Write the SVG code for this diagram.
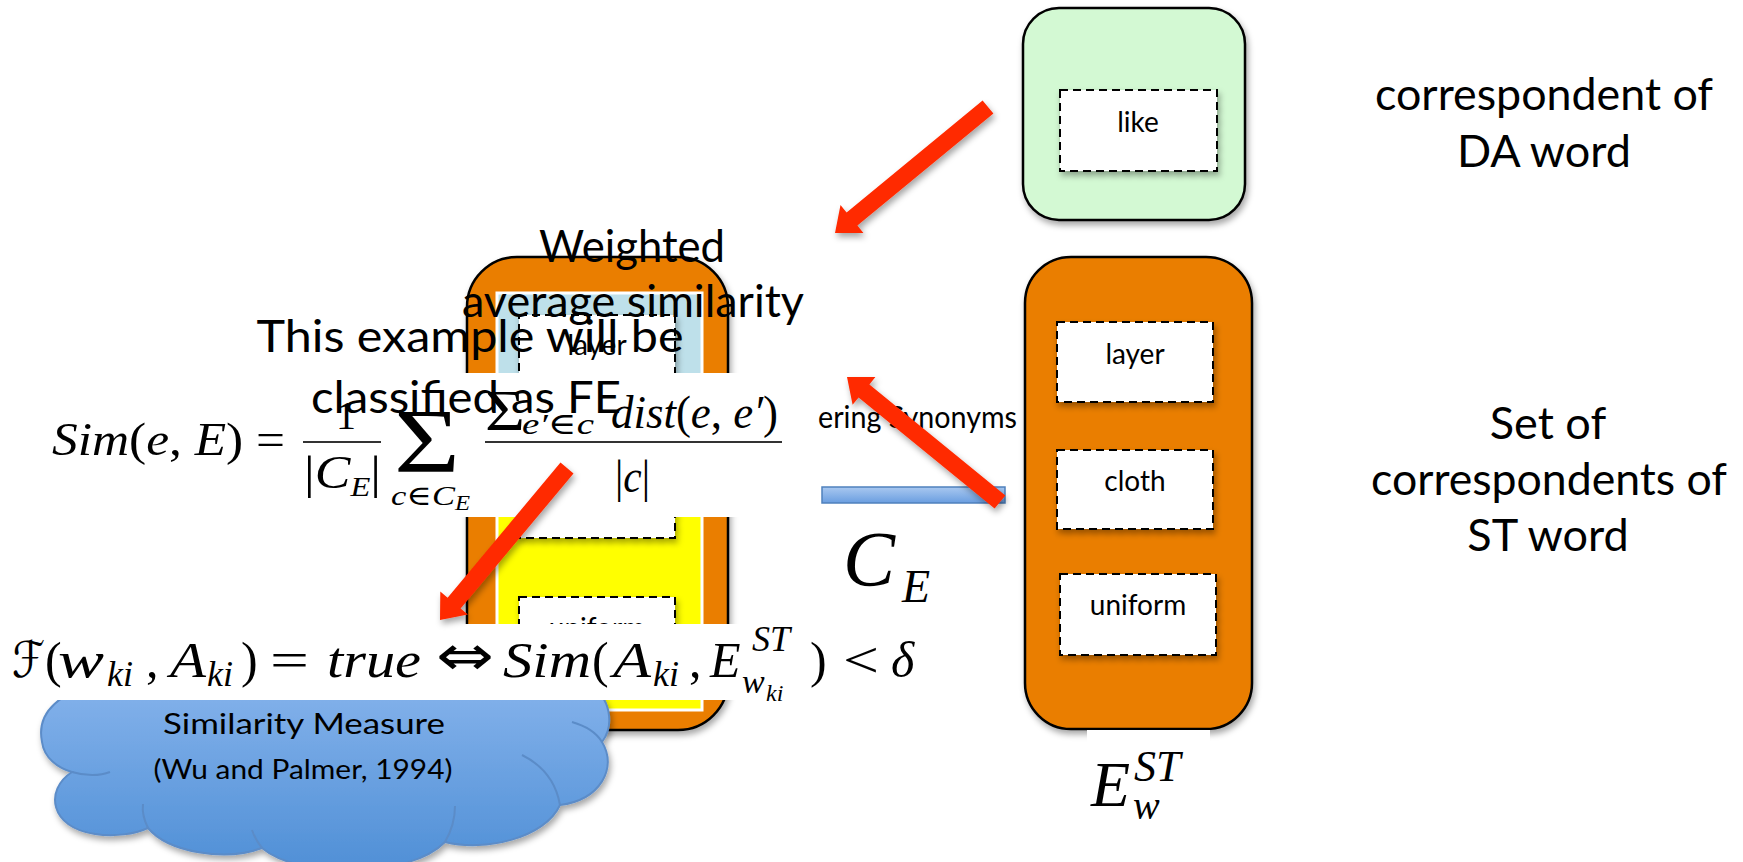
<svg xmlns="http://www.w3.org/2000/svg" width="1743" height="862" viewBox="0 0 1743 862">
<style>
.box{stroke:#000;stroke-width:2.5}
.dash{fill:#fff;stroke:#000;stroke-width:2;stroke-dasharray:8 5}
.lbl{font-family:Lato,"Open Sans",sans-serif;font-size:28px;text-anchor:middle;fill:#000}
.big{font-family:Lato,"Open Sans",sans-serif;font-size:45px;fill:#000}
.mid{text-anchor:middle}
.m{font-family:"Liberation Serif","DejaVu Serif",serif;font-style:italic;fill:#000}
.u{font-style:normal}
.arrow{fill:#ff2a00}
.bar{stroke:#333;stroke-width:2}
</style>
<defs>
<filter id="sh" x="-20%" y="-20%" width="140%" height="140%">
<feDropShadow dx="2" dy="4" stdDeviation="3" flood-color="#000" flood-opacity="0.35"/>
</filter>
<linearGradient id="cloudG" x1="0" y1="0" x2="0" y2="1">
<stop offset="0" stop-color="#93bcf1"/>
<stop offset="1" stop-color="#4f8fd6"/>
</linearGradient>
<linearGradient id="barG" x1="0" y1="0" x2="0" y2="1">
<stop offset="0" stop-color="#a9c8f0"/>
<stop offset="1" stop-color="#6a9ee0"/>
</linearGradient>
</defs>
<rect width="1743" height="862" fill="#fff"/>

<g id="da-box">
<rect class="box" x="1023" y="8" width="222" height="212" rx="36" fill="#d3f9d3" filter="url(#sh)"/>
<rect class="dash" x="1060" y="90" width="157" height="81" filter="url(#sh)"/>
<text class="lbl" x="1138" y="132">like</text>
</g>

<g id="st-box">
<rect class="box" x="1025" y="257" width="227" height="472" rx="46" fill="#ea7e04" filter="url(#sh)"/>
<rect class="dash" x="1057" y="322" width="156" height="80" filter="url(#sh)"/>
<text class="lbl" x="1135" y="364">layer</text>
<rect class="dash" x="1057" y="450" width="156" height="79" filter="url(#sh)"/>
<text class="lbl" x="1135" y="491">cloth</text>
<rect class="dash" x="1060" y="574" width="156" height="81" filter="url(#sh)"/>
<text class="lbl" x="1138" y="615">uniform</text>
</g>

<g id="cluster-box">
<rect class="box" x="467" y="257" width="261" height="473" rx="50" fill="#ea7e04" filter="url(#sh)"/>
<rect x="497" y="293" width="205" height="140" fill="#bee0ea" stroke="#fff" stroke-width="3"/>
<rect x="497" y="433" width="205" height="277" fill="#ffff00" stroke="#fff" stroke-width="3"/>
<rect class="dash" x="519" y="315" width="156" height="80" filter="url(#sh)"/>
<text class="lbl" x="597" y="355">layer</text>
<rect class="dash" x="519" y="458" width="156" height="80" filter="url(#sh)"/>
<rect class="dash" x="519" y="597" width="156" height="80" filter="url(#sh)"/>
<text class="lbl" x="597" y="638">uniform</text>
</g>

<g id="blue-bar">
<rect x="822" y="487" width="183" height="16" fill="url(#barG)" stroke="#4f81bd" stroke-width="1.5"/>
</g>

<g id="synonyms-label">
<text class="big" x="818" y="428" style="font-size:31px" textLength="199" lengthAdjust="spacingAndGlyphs">ering Synonyms</text>
</g>

<g id="formula-sim">
<rect x="30" y="373" width="788" height="144" fill="#fff"/>
<text class="m" x="52" y="455" font-size="46" textLength="233" lengthAdjust="spacingAndGlyphs">Sim<tspan class="u">(</tspan>e<tspan class="u">, </tspan>E<tspan class="u">) =</tspan></text>
<text class="m u" x="336" y="429" font-size="40">1</text>
<line class="bar" x1="303" y1="442" x2="381" y2="442"/>
<text class="m" x="304" y="488" font-size="46" textLength="77" lengthAdjust="spacingAndGlyphs"><tspan class="u">|</tspan>C<tspan font-size="28" dy="8">E</tspan><tspan class="u" dy="-8">|</tspan></text>
<text class="m u" x="394" y="472" font-size="90" textLength="66" lengthAdjust="spacingAndGlyphs">Σ</text>
<text class="m" x="391" y="505" font-size="28" textLength="79" lengthAdjust="spacingAndGlyphs">c<tspan class="u">∈</tspan>C<tspan font-size="20" dy="5">E</tspan></text>
<line class="bar" x1="485" y1="442" x2="782" y2="442"/>
<text class="m u" x="485" y="430" font-size="58" textLength="40" lengthAdjust="spacingAndGlyphs">Σ</text>
<text class="m" x="522" y="434" font-size="30" textLength="72" lengthAdjust="spacingAndGlyphs">e′<tspan class="u">∈</tspan>c</text>
<text class="m" x="611" y="428" font-size="46" textLength="167" lengthAdjust="spacingAndGlyphs">dist<tspan class="u">(</tspan>e<tspan class="u">, </tspan>e′<tspan class="u">)</tspan></text>
<text class="m" x="615" y="492" font-size="46" textLength="35" lengthAdjust="spacingAndGlyphs"><tspan class="u">|</tspan>c<tspan class="u">|</tspan></text>
</g>

<g id="ce-label">
<rect x="838" y="523" width="107" height="89" fill="#fff"/>
<text class="m" x="843" y="585" font-size="78">C</text>
<text class="m" x="902" y="602" font-size="46">E</text>
</g>

<g id="est-label">
<rect x="1087" y="730" width="123" height="101" fill="#fff"/>
<text class="m" x="1091" y="806" font-size="64">E</text>
<text class="m" x="1134" y="781" font-size="44">ST</text>
<text class="m" x="1133" y="819" font-size="40">w</text>
</g>

<g id="similarity-cloud">
<path d="M 100,690 C 62,688 36,712 42,742 C 44,758 58,768 72,772 C 44,790 50,828 95,834 C 115,837 135,834 148,828 C 168,852 225,862 262,848 C 300,880 410,878 445,842 C 485,852 545,838 560,805 C 600,800 618,768 602,742 C 615,725 610,695 590,688 C 600,665 580,645 550,645 C 520,630 460,630 440,640 C 400,628 330,630 312,640 C 272,628 205,630 192,645 C 140,635 92,652 100,690 Z" fill="url(#cloudG)" stroke="#5b8cc8" stroke-width="2" filter="url(#sh)"/>
<g fill="none" stroke="#5b8cc8" stroke-width="2">
<path d="M 72,772 C 85,776 100,776 110,772"/>
<path d="M 148,828 C 144,820 142,812 143,804"/>
<path d="M 262,848 C 257,842 254,836 252,830"/>
<path d="M 445,842 C 452,830 455,818 455,806"/>
<path d="M 560,805 C 556,782 542,765 522,755"/>
<path d="M 602,742 C 596,732 586,726 572,722"/>
</g>
<text class="lbl" x="304" y="734" style="font-size:29px" textLength="282" lengthAdjust="spacingAndGlyphs">Similarity Measure</text>
<text class="lbl" x="303" y="779" style="font-size:26px" textLength="299" lengthAdjust="spacingAndGlyphs">(Wu and Palmer, 1994)</text>
</g>

<g id="formula-filter">
<rect x="0" y="624" width="940" height="76" fill="#fff"/>
<text class="m" x="12" y="677" style="font-family:'DejaVu Serif','DejaVu Sans',serif;font-size:50px" textLength="33" lengthAdjust="spacingAndGlyphs">ℱ</text>
<text class="m u" x="45" y="677" font-size="50">(</text>
<text class="m" x="58" y="677" font-size="50" textLength="46" lengthAdjust="spacingAndGlyphs">w</text>
<text class="m" x="107" y="686" font-size="36">ki</text>
<text class="m u" x="146" y="677" font-size="50">,</text>
<text class="m" x="170" y="677" font-size="50" textLength="36" lengthAdjust="spacingAndGlyphs">A</text>
<text class="m" x="207" y="686" font-size="36">ki</text>
<text class="m u" x="241" y="677" font-size="50">)</text>
<text class="m u" x="270" y="677" font-size="50" textLength="39" lengthAdjust="spacingAndGlyphs">=</text>
<text class="m" x="327" y="677" font-size="50" textLength="94" lengthAdjust="spacingAndGlyphs">true</text>
<text class="m u" x="436" y="675" style="font-family:'DejaVu Sans',sans-serif;font-size:56px" textLength="58" lengthAdjust="spacingAndGlyphs">⇔</text>
<text class="m" x="503" y="677" font-size="50" textLength="88" lengthAdjust="spacingAndGlyphs">Sim</text>
<text class="m u" x="592" y="677" font-size="50">(</text>
<text class="m" x="613" y="677" font-size="50" textLength="38" lengthAdjust="spacingAndGlyphs">A</text>
<text class="m" x="653" y="686" font-size="36">ki</text>
<text class="m u" x="689" y="677" font-size="50">,</text>
<text class="m" x="710" y="677" font-size="50">E</text>
<text class="m" x="752" y="651" font-size="36">ST</text>
<text class="m" x="742" y="693" font-size="34">w</text>
<text class="m" x="766" y="701" font-size="24">ki</text>
<text class="m u" x="810" y="677" font-size="50">)</text>
<text class="m u" x="843" y="677" font-size="50" textLength="36" lengthAdjust="spacingAndGlyphs">&lt;</text>
<text class="m" x="891" y="677" font-size="50">δ</text>
</g>

<g id="weighted-label">
<text class="big mid" x="632" y="262" textLength="186" lengthAdjust="spacingAndGlyphs">Weighted</text>
<text class="big mid" x="633" y="317" textLength="342" lengthAdjust="spacingAndGlyphs">average similarity</text>
</g>

<g id="example-label">
<text class="big mid" x="470" y="352" textLength="427" lengthAdjust="spacingAndGlyphs">This example will be</text>
<text class="big mid" x="466" y="413" textLength="310" lengthAdjust="spacingAndGlyphs">classified as FE</text>
</g>

<g id="connectors" filter="url(#sh)">
<polygon class="arrow" points="982.6,100.4 846.6,212.5 840.5,205.1 835,233 863.4,232.9 857.4,225.6 993.4,113.6"/>
<polygon class="arrow" points="1005.4,495.4 869.4,384.4 875.4,377 847,377 852.6,404.8 858.6,397.5 994.6,508.6"/>
<polygon class="arrow" points="560.5,462.6 447.6,597.7 440.3,591.6 440,620 467.9,614.6 460.6,608.6 573.5,473.5"/>
</g>

<g id="da-label">
<text class="big mid" x="1544" y="110" textLength="338" lengthAdjust="spacingAndGlyphs">correspondent of</text>
<text class="big mid" x="1544" y="167">DA word</text>
</g>

<g id="st-label">
<text class="big mid" x="1548" y="439">Set of</text>
<text class="big mid" x="1549" y="495" textLength="356" lengthAdjust="spacingAndGlyphs">correspondents of</text>
<text class="big mid" x="1548" y="551">ST word</text>
</g>
</svg>
